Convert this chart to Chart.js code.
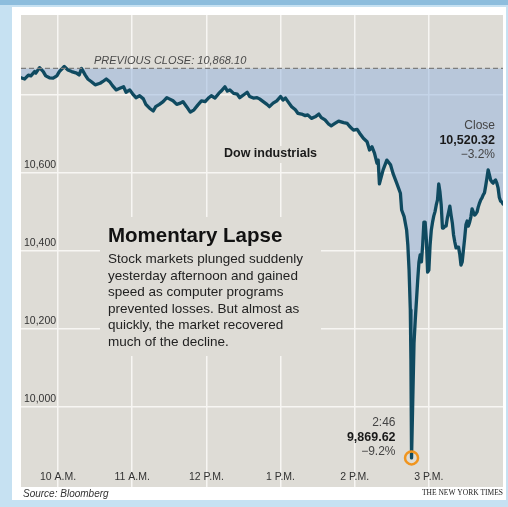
<!DOCTYPE html>
<html>
<head>
<meta charset="utf-8">
<script src="https://cdn.jsdelivr.net/npm/chart.js@4"></script>
<style>
  html, body { margin: 0; padding: 0; background: #c6e1f2; }
  canvas { display: block; }
</style>
</head>
<body>
<canvas id="myChart" width="508" height="507"></canvas>
<script>
// Dow industrials, intraday, May 6 2010
const times = [
  '9:30','9:33','9:36','9:38','9:41','9:42','9:45','9:48','9:50','9:53','9:56','9:59',
  '10:01','10:05','10:08','10:11','10:15','10:17','10:19','10:22','10:24','10:27','10:30','10:34',
  '10:36','10:39','10:42','10:44','10:47','10:50','10:53','10:55','10:58',
  '11:01','11:03','11:06','11:09','11:11','11:14','11:17','11:19','11:22','11:25','11:28','11:30',
  '11:33','11:36','11:39','11:41','11:44','11:47','11:50','11:53','11:56','11:59',
  '12:02','12:04','12:07','12:10','12:12','12:15','12:17','12:19','12:22','12:25','12:27','12:30',
  '12:33','12:35','12:38','12:41','12:43','12:46','12:49','12:51','12:54','12:57',
  '13:00','13:02','13:04','13:06','13:09','13:12','13:14','13:17','13:20','13:22','13:25','13:28',
  '13:31','13:33','13:36','13:39','13:41','13:44','13:47','13:51','13:54','13:56','13:59',
  '14:02','14:04','14:07','14:10','14:12','14:14','14:16','14:18','14:19','14:20','14:23','14:26',
  '14:29','14:31','14:34','14:37','14:38','14:40','14:42','14:43','14:44','14:45','14:45:30','14:46',
  '14:47','14:48','14:49','14:50','14:51','14:52','14:53','14:54','14:55','14:56','14:57','14:58','14:59',
  '15:00','15:01','15:02','15:03','15:04','15:05','15:06','15:07','15:08','15:09','15:10','15:11','15:12',
  '15:13','15:14','15:15','15:16','15:17','15:18','15:19','15:20','15:21','15:22','15:23','15:24','15:25',
  '15:26','15:27','15:28','15:29','15:30','15:31','15:32','15:33','15:34','15:35','15:36','15:37','15:38',
  '15:39','15:40','15:41','15:42','15:43','15:44','15:45','15:46','15:47','15:48','15:49','15:50','15:51',
  '15:52','15:53','15:54','15:55','15:56','15:57','15:58','15:59','16:00'
];
const values = [
  10844,10841,10851,10849,10860,10856,10870,10860,10849,10844,10843,10849,
  10860,10873,10864,10860,10856,10851,10868,10851,10841,10834,10826,10830,
  10834,10841,10833,10824,10813,10817,10821,10807,10813,
  10800,10793,10798,10790,10776,10766,10759,10770,10776,10783,10793,10790,
  10785,10776,10779,10783,10770,10756,10762,10774,10785,10783,
  10793,10798,10792,10804,10810,10821,10810,10813,10804,10802,10793,10800,
  10807,10796,10792,10793,10790,10783,10776,10770,10779,10785,
  10796,10787,10792,10783,10770,10762,10753,10751,10747,10749,10740,10744,
  10751,10742,10736,10725,10721,10727,10733,10729,10727,10719,10710,
  10712,10702,10689,10680,10659,10667,10651,10625,10633,10572,10608,10633,
  10621,10599,10574,10548,10505,10488,10454,10415,10351,10249,10121,9869.62,
  10018,10164,10223,10274,10326,10372,10390,10372,10415,10474,10474,10428,10346,
  10351,10415,10454,10474,10490,10501,10518,10531,10572,10551,10518,10459,10459,
  10464,10464,10485,10500,10515,10492,10472,10441,10423,10408,10410,10410,10392,
  10364,10372,10403,10433,10467,10477,10464,10474,10487,10508,10500,10492,10495,
  10500,10513,10523,10531,10536,10544,10549,10567,10587,10608,10595,10582,10577,
  10574,10579,10582,10574,10562,10538,10528,10526,10520.32
];

const prevClose = 10868.10;
const lowTime = '14:46';
const lowValue = 9869.62;
const closeValue = 10520.32;

const xTicks = ['10:00','11:00','12:00','13:00','14:00','15:00'];
const xTickLabels = ['10 A.M.','11 A.M.','12 P.M.','1 P.M.','2 P.M.','3 P.M.'];
const yTicks = [10000, 10200, 10400, 10600, 10800];
const yTickLabels = ['10,000','10,200','10,400','10,600',''];

// minutes after the 9:30 open
const toMin = (t) => {
  const p = t.split(':').map(Number);
  return p[0] * 60 + p[1] + (p[2] || 0) / 60 - 570;
};

const points = times.map((t, i) => ({ x: toMin(t), y: values[i] }));

const BG = '#dedcd6';
const SANS = '"Liberation Sans", Arial, sans-serif';

const decor = {
  id: 'decor',
  beforeDraw(chart) {
    const ctx = chart.ctx;
    const a = chart.chartArea;
    ctx.save();
    ctx.fillStyle = '#c6e1f2';
    ctx.fillRect(0, 0, chart.width, chart.height);
    ctx.fillStyle = '#8dbddd';
    ctx.fillRect(0, 0, chart.width, 5);
    ctx.fillStyle = '#ffffff';
    ctx.fillRect(12, 7, 494, 493);
    ctx.fillStyle = BG;
    ctx.fillRect(a.left, a.top, a.right - a.left, a.bottom - a.top);
    ctx.restore();
  },
  beforeDatasetsDraw(chart) {
    // blank out the grid behind the text block and the series label
    const ctx = chart.ctx;
    ctx.save();
    ctx.fillStyle = BG;
    ctx.fillRect(100, 217, 221, 139);
    ctx.fillRect(222, 146, 98, 17);
    ctx.restore();
  },
  afterDraw(chart) {
    const ctx = chart.ctx;
    const x = chart.scales.x, y = chart.scales.y;
    ctx.save();
    ctx.textBaseline = 'middle';

    // axis labels inside the plot
    ctx.fillStyle = '#333';
    ctx.font = '10.5px ' + SANS;
    ctx.textAlign = 'left';
    yTicks.forEach((v, i) => {
      if (yTickLabels[i]) ctx.fillText(yTickLabels[i], x.left + 3, y.getPixelForValue(v) - 8);
    });
    ctx.textAlign = 'center';
    xTicks.forEach((t, i) => {
      ctx.fillText(xTickLabels[i], x.getPixelForValue(toMin(t)), 477);
    });

    // previous close
    ctx.textAlign = 'left';
    ctx.fillStyle = '#4a4a4a';
    ctx.font = 'italic 11px ' + SANS;
    ctx.fillText('PREVIOUS CLOSE: 10,868.10', 94, y.getPixelForValue(prevClose) - 7);

    // series label
    ctx.fillStyle = '#1a1a1a';
    ctx.font = 'bold 12.5px ' + SANS;
    ctx.fillText('Dow industrials', 224, 154);

    // close
    ctx.textAlign = 'right';
    ctx.fillStyle = '#444';
    ctx.font = '12px ' + SANS;
    ctx.fillText('Close', 495, 126);
    ctx.fillStyle = '#1a1a1a';
    ctx.font = 'bold 12.5px ' + SANS;
    ctx.fillText('10,520.32', 495, 141);
    ctx.fillStyle = '#444';
    ctx.font = '12px ' + SANS;
    ctx.fillText('\u22123.2%', 495, 155);

    // low
    const lx = x.getPixelForValue(toMin(lowTime)) - 16;
    ctx.fillStyle = '#444';
    ctx.font = '12px ' + SANS;
    ctx.fillText('2:46', lx, 423);
    ctx.fillStyle = '#1a1a1a';
    ctx.font = 'bold 12.5px ' + SANS;
    ctx.fillText('9,869.62', lx, 438);
    ctx.fillStyle = '#444';
    ctx.font = '12px ' + SANS;
    ctx.fillText('\u22129.2%', lx, 452);

    // text block
    ctx.textAlign = 'left';
    ctx.fillStyle = '#111';
    ctx.font = 'bold 20.5px ' + SANS;
    ctx.fillText('Momentary Lapse', 108, 236);
    ctx.fillStyle = '#222';
    ctx.font = '13.5px ' + SANS;
    ['Stock markets plunged suddenly',
     'yesterday afternoon and gained',
     'speed as computer programs',
     'prevented losses. But almost as',
     'quickly, the market recovered',
     'much of the decline.'].forEach((s, i) => ctx.fillText(s, 108, 259.5 + i * 16.5));

    // footer
    ctx.fillStyle = '#333';
    ctx.font = 'italic 10px ' + SANS;
    ctx.fillText('Source: Bloomberg', 23, 494);
    ctx.textAlign = 'right';
    ctx.fillStyle = '#222';
    ctx.font = '7.5px "Liberation Serif", "Times New Roman", serif';
    ctx.fillText('THE NEW YORK TIMES', 503, 493);
    ctx.restore();
  }
};

const config = {
  type: 'line',
  data: {
    datasets: [{
      label: 'Dow industrials',
      data: points,
      borderColor: '#0f4a60',
      borderWidth: 3.3,
      borderJoinStyle: 'round',
      borderCapStyle: 'round',
      pointRadius: 0,
      tension: 0,
      fill: { value: prevClose, above: 'rgba(146,178,222,0.5)', below: 'rgba(146,178,222,0.5)' },
      order: 2
    },
    {
      label: 'Previous close',
      data: [{ x: 0, y: prevClose }, { x: 390, y: prevClose }],
      borderColor: '#7d7d7d',
      borderWidth: 1.2,
      borderDash: [5, 3],
      pointRadius: 0,
      fill: false,
      order: 1
    },
    {
      label: 'Low',
      type: 'scatter',
      data: [{ x: toMin(lowTime), y: lowValue }],
      pointRadius: 6.5,
      pointBorderWidth: 2.5,
      pointBorderColor: '#f0951f',
      pointBackgroundColor: 'rgba(0,0,0,0)',
      order: 0
    }]
  },
  options: {
    responsive: false,
    animation: false,
    layout: { autoPadding: false, padding: { left: 21, right: 5, top: 15, bottom: 20 } },
    plugins: { legend: { display: false }, tooltip: { enabled: false } },
    scales: {
      x: {
        type: 'linear',
        min: 0,
        max: 390,
        afterBuildTicks: (s) => { s.ticks = xTicks.map(t => ({ value: toMin(t) })); },
        ticks: { display: false },
        border: { display: false },
        grid: { color: '#f7f6f3', lineWidth: 1.5, drawTicks: false, tickLength: 0 }
      },
      y: {
        min: 9795,
        max: 11005,
        afterBuildTicks: (s) => { s.ticks = yTicks.map(v => ({ value: v })); },
        ticks: { display: false },
        border: { display: false },
        grid: { color: '#f7f6f3', lineWidth: 1.5, drawTicks: false, tickLength: 0 }
      }
    }
  },
  plugins: [decor]
};

const myChart = new Chart(document.getElementById('myChart'), config);
</script>
</body>
</html>
